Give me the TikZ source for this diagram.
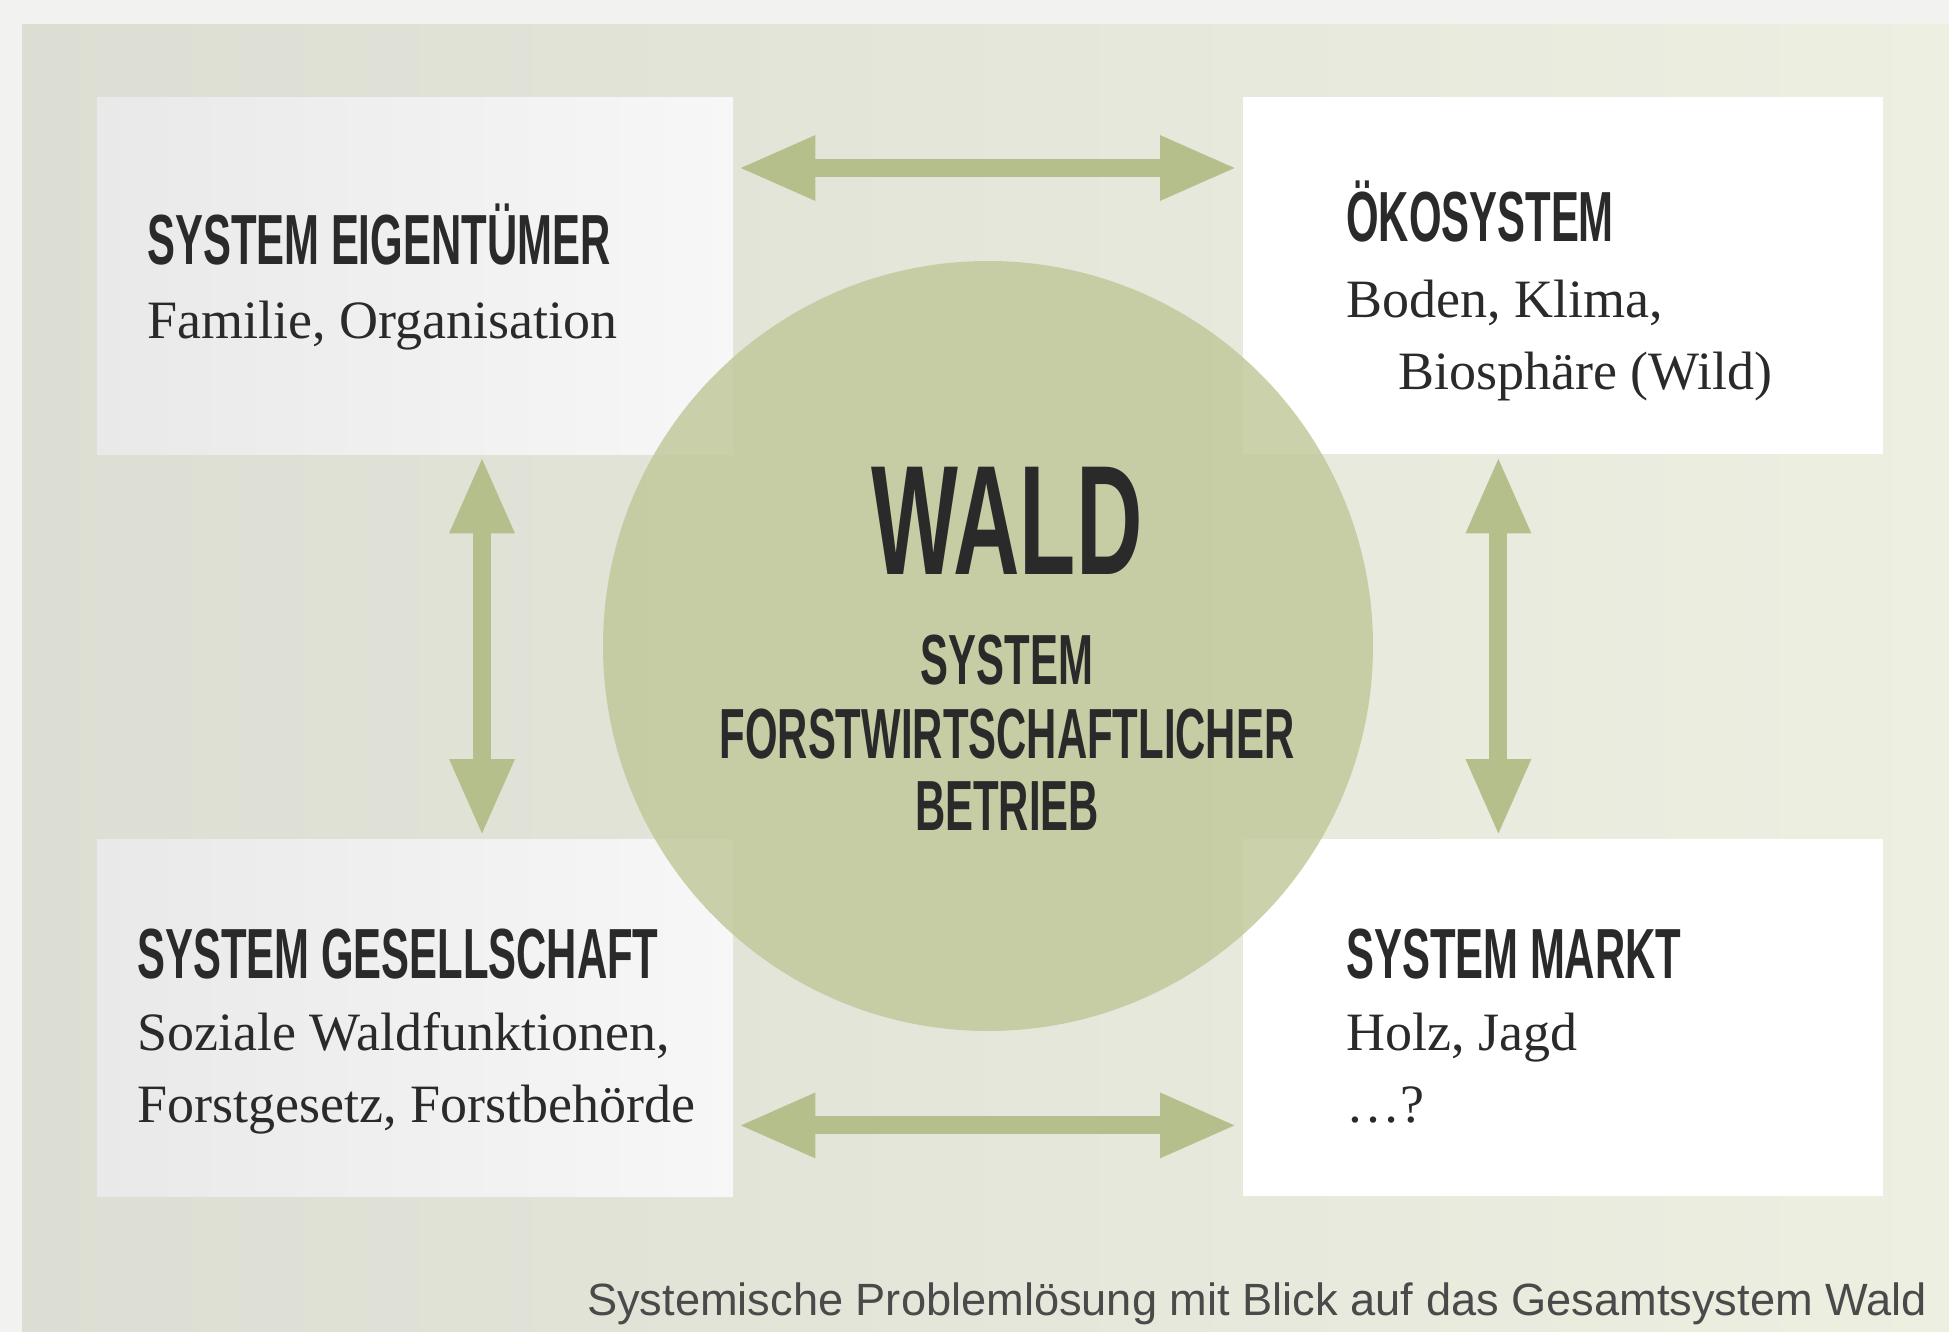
\documentclass[tikz,border=0pt]{standalone}
\usepackage{fontspec}
\setmainfont{Liberation Serif}
\newfontfamily\headfont[FakeStretch=0.59]{Liberation Sans}
\newfontfamily\capfont{Liberation Sans}
\usetikzlibrary{arrows.meta,calc}
\definecolor{outerbg}{HTML}{F2F2F0}
\definecolor{panelL}{HTML}{DCDED3}
\definecolor{panelR}{HTML}{EDEFE1}
\definecolor{boxL}{HTML}{E9E9E9}
\definecolor{boxR}{HTML}{F7F7F7}
\definecolor{circ}{HTML}{C0C899}
\definecolor{arr}{HTML}{B5BF8C}
\definecolor{ink}{HTML}{2A2A2A}
\definecolor{capgray}{HTML}{4A4A4A}
\begin{document}
\begin{tikzpicture}[x=1pt,y=-1pt,
  leftbox/.style={rectangle, inner sep=0pt, minimum width=636pt, minimum height=357pt, left color=boxL, right color=boxR, draw=none},
  rightbox/.style={rectangle, inner sep=0pt, minimum width=640pt, minimum height=357pt, fill=white, draw=none},
  head/.style={inner sep=0pt, anchor=base west, text=ink, font=\headfont\bfseries\fontsize{71}{80}\selectfont},
  subtxt/.style={inner sep=0pt, anchor=base west, text=ink, font=\fontsize{54}{60}\selectfont},
  midtext/.style={inner sep=0pt, anchor=base, text=ink, font=\headfont\bfseries\fontsize{71}{80}\selectfont},
  link/.style={draw=arr, line width=18pt, {Triangle[length=77pt,width=60pt]}-{Triangle[length=77pt,width=60pt]}}
]
\useasboundingbox (0,0) rectangle (1949,1332);
\fill[outerbg] (0,0) rectangle (1949,1332);
\shade[left color=panelL, right color=panelR] (22,25) rectangle (1949,1332);

% boxes
\node[leftbox, anchor=north west] (tl) at (97,97) {};
\node[rightbox, anchor=north west] (tr) at (1243,97) {};
\node[leftbox, anchor=north west] (bl) at (97,839) {};
\node[rightbox, anchor=north west] (br) at (1243,839) {};

% central circle
\node[circle, fill=circ, fill opacity=0.82, minimum size=770pt, inner sep=0pt] (wald) at (988,646) {};

% arrows
\draw[link] ($(tl.north east)+(5,71)$) -- ($(tr.north west)+(-6,71)$);
\draw[link] ($(bl.south east)+(5,-71)$) -- ($(br.south west)+(-6,-71)$);
\draw[link] ($(tl.south west)+(385,2)$) -- ($(bl.north west)+(385,-3)$);
\draw[link] ($(tr.south east)+(-385,2)$) -- ($(br.north east)+(-385,-3)$);

% texts
\node[head] (tlh) at (147,265) {SYSTEM EIGENTÜMER};
\node[subtxt] (tls) at (147,338) {Familie, Organisation};
\node[head] (trh) at (1346,242) {ÖKOSYSTEM};
\node[subtxt] (trs1) at (1346,317) {Boden, Klima,};
\node[subtxt] (trs2) at (1398,389) {Biosphäre (Wild)};
\node[head] (blh) at (137,978) {SYSTEM GESELLSCHAFT};
\node[subtxt] (bls1) at (137,1050) {Soziale Waldfunktionen,};
\node[subtxt] (bls2) at (137,1122) {Forstgesetz, Forstbehörde};
\node[head] (brh) at (1346,978) {SYSTEM MARKT};
\node[subtxt] (brs1) at (1346,1050) {Holz, Jagd};
\node[subtxt] (brs2) at (1346,1122) {…?};

\node[midtext, font=\headfont\bfseries\fontsize{156}{170}\selectfont] (w1) at (1007,574) {WALD};
\node[midtext] (w2) at (1007,684) {SYSTEM};
\node[midtext] (w3) at (1007,758) {FORSTWIRTSCHAFTLICHER};
\node[midtext] (w4) at (1007,830) {BETRIEB};

\node[inner sep=0pt, anchor=base east, text=capgray, font=\capfont\fontsize{45.2}{50}\selectfont] (cap) at (1927,1315) {Systemische Problemlösung mit Blick auf das Gesamtsystem Wald};
\end{tikzpicture}
\end{document}
